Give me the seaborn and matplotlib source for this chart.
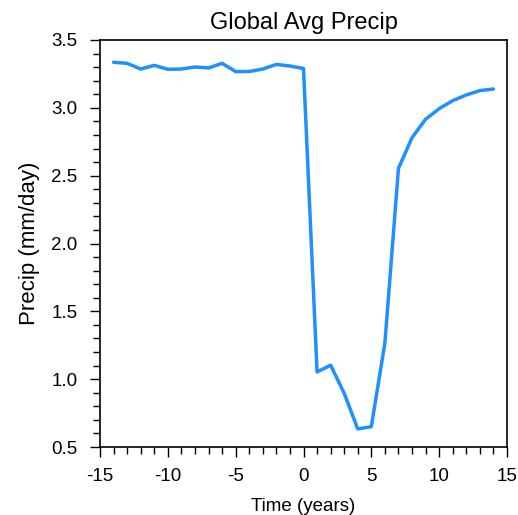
import matplotlib
matplotlib.use("Agg")
import matplotlib.pyplot as plt
import seaborn as sns
import pandas as pd
from matplotlib.ticker import MultipleLocator

years = list(range(-14, 15))
precip = [3.336, 3.328, 3.286, 3.313, 3.284, 3.286, 3.301, 3.294, 3.328, 3.267,
          3.268, 3.286, 3.320, 3.308, 3.290, 1.053, 1.103, 0.896, 0.633, 0.650,
          1.267, 2.554, 2.780, 2.916, 2.994, 3.053, 3.095, 3.127, 3.139]

df = pd.DataFrame({"Time (years)": years, "Precip (mm/day)": precip})

sns.set_theme(style="white")
plt.rcParams['font.family'] = ['Liberation Sans', 'DejaVu Sans']
plt.rcParams['axes.unicode_minus'] = False

fig = plt.figure(figsize=(5.18, 5.15), dpi=100)
ax = fig.add_axes([100/518, 1-447/515, 407/518, 407/515])

sns.lineplot(data=df, x="Time (years)", y="Precip (mm/day)", ax=ax,
             color="#1E90FF", linewidth=2.5)

ax.set_xlim(-15, 15)
ax.set_ylim(0.5, 3.5)
ax.xaxis.set_major_locator(MultipleLocator(5))
ax.xaxis.set_minor_locator(MultipleLocator(1))
ax.yaxis.set_minor_locator(MultipleLocator(0.1))
ax.set_yticks([0.5, 1.0, 1.5, 2.0, 2.5, 3.0, 3.5])
ax.set_yticklabels(["0.5", "1.0", "1.5", "2.0", "2.5", "3.0", "3.5"])

ax.tick_params(axis="both", which="major", direction="out", length=7.2, width=1.0,
               color="black", labelsize=13.5, labelcolor="black",
               bottom=True, left=True, top=False, right=False)
ax.tick_params(axis="y", which="major", pad=9)
ax.tick_params(axis="x", which="major", pad=8)
ax.tick_params(axis="both", which="minor", direction="out", length=4.8, width=1.0,
               color="black", bottom=True, left=True, top=False, right=False)

for s in ax.spines.values():
    s.set_color("black")
    s.set_linewidth(1.2)

ax.set_xlabel("Time (years)", fontsize=13.5, color="black", labelpad=9)
ax.set_ylabel("Precip (mm/day)", fontsize=16, color="black", labelpad=8)
ax.set_title("Global Avg Precip", fontsize=17, color="black", pad=8)

fig.savefig("out.png", dpi=100)
